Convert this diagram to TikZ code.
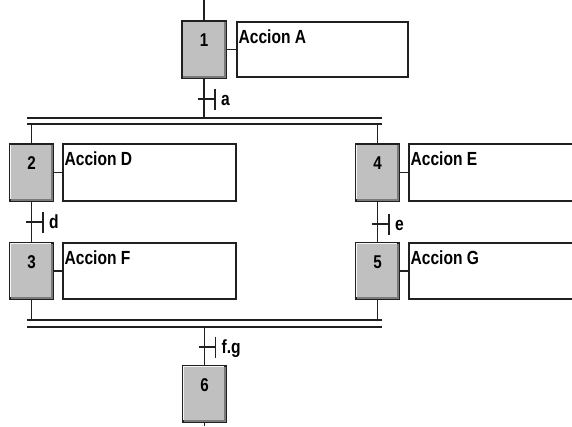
\documentclass[tikz,border=0pt]{standalone}
\usepackage{fontspec}
\newfontfamily\labfont[FakeStretch=0.82]{Liberation Sans}
\definecolor{stepgray}{HTML}{C0C0C0}
\definecolor{shadegray}{HTML}{7A7A7A}
\definecolor{linecol}{HTML}{202020}
\tikzset{
  stepbox/.style={draw=linecol, line width=1.2pt, fill=stepgray, minimum width=43pt, minimum height=56pt,
     inner sep=0pt, text height=12pt, text depth=18pt, font=\labfont\bfseries\fontsize{18.5}{18.5}\selectfont},
  actbox/.style={draw=linecol, line width=1.2pt, fill=white, inner sep=0pt},
  acttext/.style={anchor=base west, inner sep=0pt, font=\labfont\bfseries\fontsize{19}{19}\selectfont},
  trtext/.style={anchor=base west, inner sep=0pt, font=\labfont\bfseries\fontsize{19}{19}\selectfont},
  wire/.style={draw=linecol, line width=1.2pt},
}
\newcommand{\stepshade}[1]{%
  \draw[shadegray, line width=2pt] ([xshift=1.5pt,yshift=1.5pt]#1.south west) -- ([xshift=-1.5pt,yshift=1.5pt]#1.south east) -- ([xshift=-1.5pt,yshift=-1.5pt]#1.north east);
  \draw[white!85!stepgray, line width=1pt] ([xshift=1pt,yshift=2.5pt]#1.south west) -- ([xshift=1pt,yshift=-1pt]#1.north west) -- ([xshift=-2.5pt,yshift=-1pt]#1.north east);
  \draw[linecol, line width=1.2pt] (#1.south west) rectangle (#1.north east);
}
\newcommand{\trans}[3]{% name, label text, label name
  \draw[wire] ([xshift=-6pt]#1) -- ([xshift=11pt]#1);
  \draw[wire] ([xshift=11pt,yshift=10.5pt]#1) -- ([xshift=11pt,yshift=-10.5pt]#1);
  \node[trtext] (#3) at ([xshift=17pt,yshift=-6.5pt]#1) {#2};
}
\begin{document}
\begin{tikzpicture}[x=1pt,y=-1pt]
\useasboundingbox (0,0) rectangle (572,426);
\clip (0,0) rectangle (572,426);
\fill[white] (0,0) rectangle (572,426);

% steps
\node[stepbox] (s1) at (204,49.5) {1};
\node[stepbox] (s2) at (31.5,172.5) {2};
\node[stepbox] (s3) at (31.5,271) {3};
\node[stepbox] (s4) at (377.5,172.5) {4};
\node[stepbox] (s5) at (377.5,271) {5};
\node[stepbox] (s6) at (204.5,394) {6};
\foreach \s in {s1,s2,s3,s4,s5,s6} {\stepshade{\s}}

% action boxes
\node[actbox, minimum width=171pt, minimum height=55pt] (aA) at (322.5,49.5) {};
\node[actbox, minimum width=173pt, minimum height=57pt] (aD) at (149.5,172.5) {};
\node[actbox, minimum width=173pt, minimum height=56pt] (aF) at (149.5,271) {};
\node[actbox, minimum width=180pt, minimum height=57pt] (aE) at (499,172.5) {};
\node[actbox, minimum width=180pt, minimum height=56pt] (aG) at (499,271) {};
\node[acttext] (tA) at ([xshift=2pt,yshift=-22pt]aA.north west) {Accion A};
\node[acttext] (tD) at ([xshift=2pt,yshift=-22pt]aD.north west) {Accion D};
\node[acttext] (tF) at ([xshift=2pt,yshift=-22pt]aF.north west) {Accion F};
\node[acttext] (tE) at ([xshift=2pt,yshift=-22pt]aE.north west) {Accion E};
\node[acttext] (tG) at ([xshift=2pt,yshift=-22pt]aG.north west) {Accion G};

% step to action links
\draw[wire] (s1.east) -- (aA.west);
\draw[wire] (s2.east) -- (aD.west);
\draw[wire] (s3.east) -- (aF.west);
\draw[wire] (s4.east) -- (aE.west);
\draw[wire] (s5.east) -- (aG.west);

% coordinates
\coordinate (top) at (204,0);
\coordinate (bot) at (204.5,426);
\coordinate (ua1) at (27,118);
\coordinate (ua2) at (382,118);
\coordinate (ub1) at (27,124);
\coordinate (ub2) at (382,124);
\coordinate (la1) at (27,320);
\coordinate (la2) at (382,320);
\coordinate (lb1) at (27,327);
\coordinate (lb2) at (382,327);
\coordinate (ta) at (204,99);
\coordinate (td) at (32,222);
\coordinate (te) at (378,224);
\coordinate (tfg) at (204.5,347);

% double bars
\draw[wire] (ua1) -- (ua2);
\draw[wire] (ub1) -- (ub2);
\draw[wire] (la1) -- (la2);
\draw[wire] (lb1) -- (lb2);

% vertical links
\draw[wire] (top) -- (s1.north);
\draw[wire] (s1.south) -- (s1.south |- ua1);
\draw[wire] (s2.north) -- (s2.north |- ub1);
\draw[wire] (s4.north) -- (s4.north |- ub1);
\draw[wire] (s2.south) -- (s3.north);
\draw[wire] (s4.south) -- (s5.north);
\draw[wire] (s3.south) -- (s3.south |- la1);
\draw[wire] (s5.south) -- (s5.south |- la1);
\draw[wire] (s6.north |- lb1) -- (s6.north);
\draw[wire] (s6.south) -- (bot);

% transitions
\trans{ta}{a}{la}
\trans{td}{d}{ld}
\trans{te}{e}{le}
\trans{tfg}{f.g}{lfg}
\end{tikzpicture}
\end{document}
